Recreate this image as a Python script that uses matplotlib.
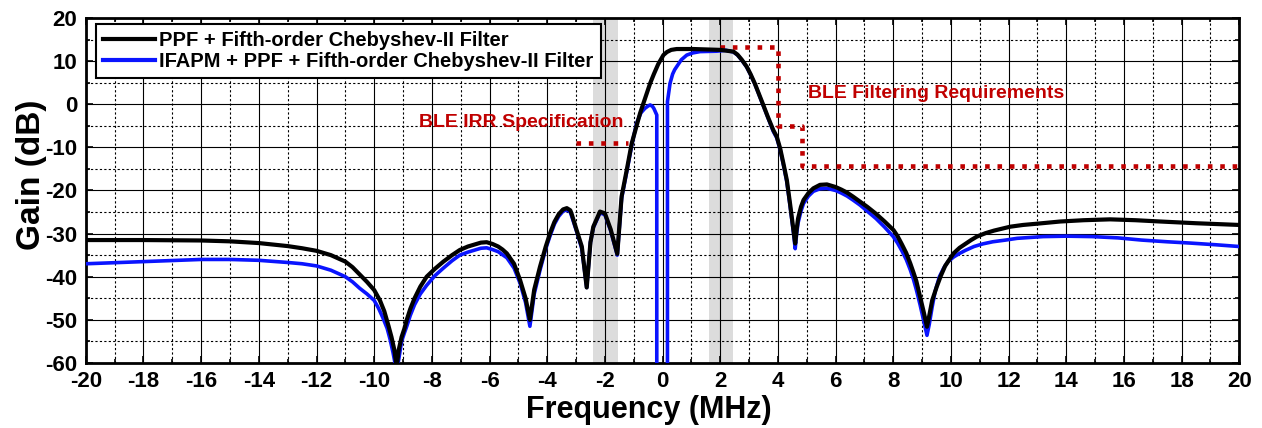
import numpy as np
import matplotlib.pyplot as plt
from matplotlib.ticker import MultipleLocator

# PPF + fifth-order Chebyshev-II response (MHz, dB)
freq_ppf = [-20, -18, -16, -15, -14, -13, -12.5, -12, -11.5, -11, -10.75, -10.5, -10.25, -10.0,
            -9.8, -9.65, -9.5, -9.4, -9.3, -9.22, -9.15, -9.05, -8.95, -8.87, -8.75, -8.6, -8.4,
            -8.18, -7.9, -7.6, -7.3, -7.03, -6.75, -6.5, -6.3, -6.1, -5.9, -5.7, -5.55, -5.4,
            -5.15, -4.94, -4.75, -4.6, -4.45, -4.25, -4.05, -3.9, -3.75, -3.6, -3.45, -3.32,
            -3.2, -3.15, -2.98, -2.8, -2.63, -2.5, -2.4, -2.17, -2.0, -1.8, -1.57, -1.42,
            -1.24, -1.07, -0.78, -0.6, -0.43, -0.3, -0.15, 0.03, 0.15, 0.3, 0.49, 1.07, 2.0,
            2.46, 2.6, 2.75, 2.92, 3.05, 3.2, 3.38, 3.5, 3.65, 3.84, 3.96, 4.08, 4.19, 4.31,
            4.42, 4.54, 4.6, 4.65, 4.7, 4.8, 4.89, 5.06, 5.23, 5.46, 5.7, 6.0, 6.2, 6.4, 6.6,
            6.85, 7.1, 7.4, 7.7, 8.01, 8.15, 8.3, 8.45, 8.59, 8.7, 8.8, 8.93, 9.05, 9.17, 9.25,
            9.35, 9.51, 9.65, 9.8, 10.09, 10.3, 10.5, 10.7, 10.9, 11.2, 11.5, 12.06, 12.5, 13,
            13.79, 14.6, 15.52, 16.4, 17.26, 18.5, 20]
gain_ppf = [-31.5, -31.5, -31.6, -31.8, -32.2, -32.9, -33.4, -34.0, -35.0, -36.5, -37.8, -39.5,
            -41.2, -43.1, -45.5, -48, -51.5, -54, -57, -61, -57, -54, -52, -50, -47.5, -45,
            -42.3, -40, -38.2, -36.5, -35, -33.8, -33, -32.5, -32.1, -32.0, -32.4, -33.0,
            -33.7, -34.6, -37, -40.8, -45, -50, -43, -37.7, -33, -29.9, -27.3, -25.5, -24.4,
            -24.1, -24.6, -25.5, -29.2, -33, -42.5, -32, -28.4, -24.9, -25.3, -29, -34.7,
            -21.4, -15.2, -9.1, -2.1, 1.5, 4.85, 7.0, 9.3, 11.4, 12.1, 12.6, 12.8, 12.8, 12.6,
            12.2, 11.5, 10.3, 8.7, 7.0, 4.8, 1.75, -0.3, -2.9, -6.0, -7.5, -10.3, -13.7, -17.6,
            -23, -29.2, -32.3, -29, -26.5, -23.8, -22.2, -20.6, -19.5, -18.7, -18.6, -19.2,
            -19.8, -20.5, -21.4, -22.6, -23.8, -25.4, -27.2, -29.2, -30.6, -32.5, -34.5,
            -36.9, -39, -41, -44.6, -48, -51.6, -49, -45.5, -42.3, -39.8, -37.5, -34.6,
            -33.3, -32.4, -31.5, -30.7, -29.9, -29.3, -28.4, -28.0, -27.7, -27.2, -26.9,
            -26.7, -26.9, -27.2, -27.6, -28.0]

# IFAPM + PPF + fifth-order Chebyshev-II response
freq_ifapm = [-20, -18, -16, -15, -14, -13, -12.5, -12, -11.5, -11, -10.75, -10.5, -10.25, -10,
              -9.85, -9.7, -9.55, -9.45, -9.35, -9.22, -9.12, -9.05, -8.95, -8.87, -8.75, -8.6,
              -8.4, -8.18, -7.9, -7.6, -7.3, -7.03, -6.75, -6.5, -6.3, -6.1, -5.9, -5.7, -5.55,
              -5.4, -5.15, -4.94, -4.75, -4.6, -4.45, -4.25, -4.05, -3.9, -3.75, -3.6, -3.45,
              -3.32, -3.2, -3.15, -2.98, -2.8, -2.63, -2.5, -2.4, -2.17, -2.0, -1.8, -1.57,
              -1.42, -1.24, -1.07, -0.9, -0.75, -0.61, -0.5, -0.43, -0.35, -0.3, -0.2, -0.2,
              0.17, 0.17, 0.22, 0.26, 0.35, 0.42, 0.49, 0.65, 0.84, 1.05, 1.3, 1.88, 2.2, 2.46,
              2.6, 2.75, 2.92, 3.05, 3.2, 3.38, 3.5, 3.65, 3.84, 3.96, 4.08, 4.19, 4.31, 4.42,
              4.54, 4.6, 4.65, 4.7, 4.8, 4.89, 5.06, 5.23, 5.46, 5.7, 6.0, 6.2, 6.4, 6.6, 6.85,
              7.1, 7.4, 7.7, 8.0, 8.15, 8.3, 8.45, 8.59, 8.7, 8.8, 8.93, 9.05, 9.17, 9.25, 9.35,
              9.45, 9.6, 9.75, 9.9, 10.1, 10.3, 10.5, 10.8, 11.1, 11.45, 11.9, 12.3, 13.2, 14.0,
              14.9, 15.8, 16.6, 17.5, 18.3, 19.2, 20]
gain_ifapm = [-37.0, -36.5, -36.0, -36.0, -36.2, -36.7, -37.0, -37.5, -38.5, -40.0, -41.2,
              -42.7, -44, -45.5, -47.3, -49.5, -52, -54.5, -57.5, -62, -58, -55, -53, -51.5,
              -49, -46.5, -44, -42, -39.8, -38, -36.3, -35, -34.3, -33.8, -33.4, -33.3, -33.7,
              -34.2, -34.9, -35.6, -38, -41.5, -46, -51.5, -44, -38.5, -33.5, -30.5, -27.8,
              -26, -24.8, -24.5, -25, -26, -29.5, -33.5, -42.5, -32, -28.6, -25.2, -25.6,
              -29.3, -35, -21.8, -15.6, -9.6, -4.4, -2.0, -0.95, -0.4, -0.17, -0.5, -1.0,
              -2.5, -62, -62, 0.6, 3.0, 4.85, 7.0, 8.0, 8.7, 10.3, 11.4, 11.9, 12.2, 12.3,
              12.5, 12.1, 11.4, 10.2, 8.6, 6.9, 4.7, 1.6, -0.5, -3.1, -6.3, -7.8, -10.6, -14,
              -18, -23.5, -29.8, -33.5, -30, -27.5, -24.8, -23, -21.3, -20.2, -19.6, -19.5,
              -20, -20.6, -21.3, -22.2, -23.4, -24.8, -26.5, -28.5, -30.7, -32.2, -34, -36,
              -38.4, -40.6, -43, -46.5, -50, -53.6, -51, -47, -43.5, -40, -38, -36.5, -35.4,
              -34.6, -33.9, -33, -32.4, -31.9, -31.5, -31.1, -30.7, -30.6, -30.7, -31.0,
              -31.5, -31.9, -32.2, -32.6, -33.0]

# BLE masks
irr_freq = [-3.0, -1.2]
irr_gain = [-8.9, -8.9]
mask_freq = [2.0, 4.0, 4.0, 4.85, 4.85, 20]
mask_gain = [13.2, 13.2, -5.0, -5.0, -14.4, -14.4]

# shaded channels
bands = [(-2.42, -1.55), (1.6, 2.45)]

red = '#c00000'
plt.rcParams['font.family'] = ['Liberation Sans', 'DejaVu Sans']
plt.rcParams['font.weight'] = 'bold'
plt.rcParams['axes.unicode_minus'] = False

fig = plt.figure(figsize=(12.62, 4.28), dpi=100)
ax = fig.add_axes([0.068, 0.152, 0.914, 0.806])

for lo, hi in bands:
    ax.axvspan(lo, hi, color='#dcdcdc', lw=0, zorder=0)

ax.plot(freq_ifapm, gain_ifapm, color='#0a14ff', lw=2.6, zorder=3)
ax.plot(freq_ppf, gain_ppf, color='black', lw=3.0, zorder=4)
ax.plot(irr_freq, irr_gain, color=red, lw=3.3, ls=(0, (1, 1.7)), zorder=2)
ax.plot(mask_freq, mask_gain, color=red, lw=3.3, ls=(0, (1, 1.7)), zorder=2)

ax.text(-1.37, -4.3, 'BLE IRR Specification', color=red, fontsize=14,
        fontweight='bold', ha='right', va='center', zorder=5)
ax.text(5.06, 2.55, 'BLE Filtering Requirements', color=red, fontsize=14,
        fontweight='bold', ha='left', va='center', zorder=5)

ax.set_xlim(-20, 20)
ax.set_ylim(-60, 20)
ax.xaxis.set_major_locator(MultipleLocator(2))
ax.xaxis.set_minor_locator(MultipleLocator(1))
ax.yaxis.set_major_locator(MultipleLocator(10))
ax.yaxis.set_minor_locator(MultipleLocator(5))
ax.grid(which='major', color='black', lw=0.8, ls='-', zorder=1)
ax.grid(which='minor', color='black', lw=0.8, ls=(0, (2, 2)), zorder=1)
ax.tick_params(which='both', direction='in', top=True, right=True, width=1.2)
ax.tick_params(which='major', length=5, labelsize=16, pad=6)
ax.tick_params(which='minor', length=3)
for lab in ax.get_xticklabels() + ax.get_yticklabels():
    lab.set_fontweight('bold')
for sp in ax.spines.values():
    sp.set_linewidth(2.0)

ax.set_xlabel('Frequency (MHz)', fontsize=22, fontweight='bold', va='center')
ax.set_ylabel('Gain (dB)', fontsize=24, fontweight='bold', va='center')
ax.xaxis.set_label_coords(0.488, -0.136)
ax.yaxis.set_label_coords(-0.047, 0.545)

h_ppf = plt.Line2D([], [], color='black', lw=3.0)
h_ifapm = plt.Line2D([], [], color='#0a14ff', lw=3.0)
leg = ax.legend([h_ppf, h_ifapm],
                ['PPF + Fifth-order Chebyshev-II Filter',
                 'IFAPM + PPF + Fifth-order Chebyshev-II Filter'],
                loc='upper left', bbox_to_anchor=(0.0087, 0.983), borderaxespad=0,
                fontsize=14.5, handlelength=2.6, handletextpad=0.2, labelspacing=0.1,
                borderpad=0.35, fancybox=False, framealpha=1, edgecolor='black')
leg.get_frame().set_linewidth(1.5)
leg.set_zorder(6)

fig.savefig('out.png', dpi=100)
